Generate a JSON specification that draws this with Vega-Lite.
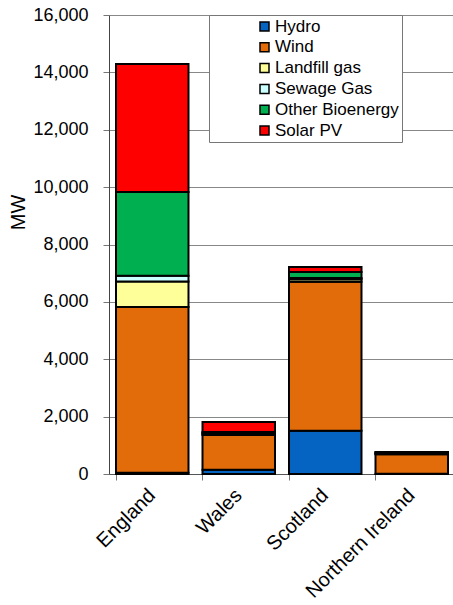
{
  "$schema": "https://vega.github.io/schema/vega-lite/v6.json",
  "autosize": "none",
  "padding": {"left": 109, "top": 15, "right": 0, "bottom": 131},
  "width": 346,
  "height": 459,
  "background": "white",
  "config": {
    "font": "Liberation Sans",
    "view": {"stroke": null},
    "axis": {"labelFont": "Liberation Sans", "titleFont": "Liberation Sans", "labelColor": "black", "titleColor": "black"}
  },
  "data": {
    "values": [
      {"country": "England", "source": "Hydro", "rank": 1, "mw": 40},
      {"country": "England", "source": "Wind", "rank": 2, "mw": 5780},
      {"country": "England", "source": "Landfill gas", "rank": 3, "mw": 890},
      {"country": "England", "source": "Sewage Gas", "rank": 4, "mw": 200},
      {"country": "England", "source": "Other Bioenergy", "rank": 5, "mw": 2920},
      {"country": "England", "source": "Solar PV", "rank": 6, "mw": 4460},
      {"country": "Wales", "source": "Hydro", "rank": 1, "mw": 150},
      {"country": "Wales", "source": "Wind", "rank": 2, "mw": 1210},
      {"country": "Wales", "source": "Landfill gas", "rank": 3, "mw": 40},
      {"country": "Wales", "source": "Sewage Gas", "rank": 4, "mw": 20},
      {"country": "Wales", "source": "Other Bioenergy", "rank": 5, "mw": 40},
      {"country": "Wales", "source": "Solar PV", "rank": 6, "mw": 350},
      {"country": "Scotland", "source": "Hydro", "rank": 1, "mw": 1510},
      {"country": "Scotland", "source": "Wind", "rank": 2, "mw": 5190},
      {"country": "Scotland", "source": "Landfill gas", "rank": 3, "mw": 90},
      {"country": "Scotland", "source": "Sewage Gas", "rank": 4, "mw": 40},
      {"country": "Scotland", "source": "Other Bioenergy", "rank": 5, "mw": 210},
      {"country": "Scotland", "source": "Solar PV", "rank": 6, "mw": 175},
      {"country": "Northern Ireland", "source": "Hydro", "rank": 1, "mw": 10},
      {"country": "Northern Ireland", "source": "Wind", "rank": 2, "mw": 680},
      {"country": "Northern Ireland", "source": "Landfill gas", "rank": 3, "mw": 20},
      {"country": "Northern Ireland", "source": "Sewage Gas", "rank": 4, "mw": 10},
      {"country": "Northern Ireland", "source": "Other Bioenergy", "rank": 5, "mw": 40},
      {"country": "Northern Ireland", "source": "Solar PV", "rank": 6, "mw": 10}
    ]
  },
  "mark": {"type": "bar", "stroke": "black", "strokeWidth": 2},
  "encoding": {
    "x": {
      "field": "country",
      "type": "nominal",
      "sort": ["England", "Wales", "Scotland", "Northern Ireland"],
      "scale": {"paddingInner": 0.162, "paddingOuter": 0.081},
      "axis": {
        "title": null,
        "labelAngle": -45,
        "labelAlign": "right",
        "labelBaseline": "middle",
        "labelFontSize": 20,
        "labelPadding": 12,
        "bandPosition": 0,
        "tickSize": 6,
        "tickColor": "#777",
        "domainColor": "#555",
        "grid": false
      }
    },
    "y": {
      "field": "mw",
      "type": "quantitative",
      "stack": "zero",
      "scale": {"domain": [0, 16000], "nice": false},
      "axis": {
        "title": "MW",
        "titleFontSize": 20,
        "titleFontWeight": "normal",
        "titleY": 197,
        "titlePadding": 4,
        "values": [0, 2000, 4000, 6000, 8000, 10000, 12000, 14000, 16000],
        "format": ",d",
        "labelFontSize": 18,
        "labelPadding": 15,
        "tickSize": 6,
        "tickColor": "#777",
        "domainColor": "#444",
        "gridColor": "#888",
        "gridWidth": 1
      }
    },
    "color": {
      "field": "source",
      "type": "nominal",
      "sort": ["Hydro", "Wind", "Landfill gas", "Sewage Gas", "Other Bioenergy", "Solar PV"],
      "scale": {
        "domain": ["Hydro", "Wind", "Landfill gas", "Sewage Gas", "Other Bioenergy", "Solar PV"],
        "range": ["#0563C1", "#E36C0A", "#FFFF99", "#CCFFFF", "#00B050", "#FF0000"]
      },
      "legend": {
        "title": null,
        "orient": "none",
        "legendX": 100,
        "legendY": 0,
        "padding": 3,
        "symbolOffset": 44,
        "symbolType": "square",
        "symbolSize": 81,
        "symbolStrokeColor": "black",
        "symbolStrokeWidth": 1.5,
        "labelFontSize": 17,
        "labelFont": "Liberation Sans",
        "labelColor": "black",
        "labelOffset": 2,
        "rowPadding": 2.8,
        "fillColor": "white",
        "strokeColor": "#777"
      }
    },
    "order": {"field": "rank", "type": "quantitative", "sort": "ascending"}
  }
}
